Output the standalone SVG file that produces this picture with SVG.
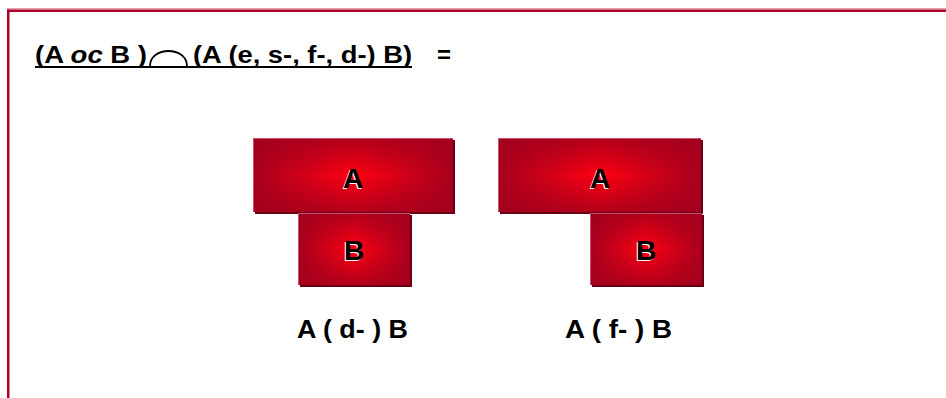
<svg xmlns="http://www.w3.org/2000/svg" width="946" height="398" viewBox="0 0 946 398">
<style>
.t{font-family:"Liberation Sans",Arial,sans-serif;font-weight:bold;fill:#000}
.lbl{font-family:"Liberation Sans",Arial,sans-serif;font-weight:bold;font-size:28px;text-anchor:middle;fill:#000}
.sh{fill:#fff}
.edgeL{fill:#c85070}
.edgeD{fill:#6a0014}
</style>
<defs>
<linearGradient id="gh" x1="0" y1="0" x2="1" y2="0">
<stop offset="0" stop-color="#a8001e"/>
<stop offset="0.5" stop-color="#ff0010"/>
<stop offset="1" stop-color="#a8001e"/>
</linearGradient>
<linearGradient id="gv" x1="0" y1="0" x2="0" y2="1">
<stop offset="0" stop-color="#a0001e" stop-opacity="0.8"/>
<stop offset="0.5" stop-color="#a0001e" stop-opacity="0"/>
<stop offset="1" stop-color="#a0001e" stop-opacity="0.8"/>
</linearGradient>
</defs>
<rect width="946" height="398" fill="#fff"/>
<g id="frame">
<rect x="7" y="8" width="939" height="1.5" fill="#e8a0b0"/>
<rect x="7" y="9.5" width="939" height="2.5" fill="#b0002a"/>
<rect x="7" y="9.5" width="2.5" height="389" fill="#b0002a"/>
</g>
<g id="title">
<text class="t" x="35" y="63" font-size="24" textLength="112" lengthAdjust="spacingAndGlyphs">(A <tspan font-style="italic">oc</tspan> B )</text>
<path d="M150,66 C150,46 187,46 187,66" fill="none" stroke="#000" stroke-width="1.8"/>
<text class="t" x="193" y="63" font-size="24" textLength="219" lengthAdjust="spacingAndGlyphs">(A (e, s-, f-, d-) B)</text>
<rect x="35" y="66" width="377" height="2" fill="#000"/>
<text class="t" x="437" y="63" font-size="24">=</text>
</g>
<g id="left-A">
<rect x="255" y="140" width="200" height="74" class="edgeD"/>
<rect x="253" y="138" width="200" height="74" class="edgeL"/>
<rect x="254" y="139" width="199" height="73" fill="url(#gh)"/>
<rect x="254" y="139" width="199" height="73" fill="url(#gv)"/>
<text class="lbl sh" x="352" y="189">A</text>
<text class="lbl" x="353" y="188">A</text>
</g>
<g id="left-B">
<rect x="300" y="215" width="112" height="72" class="edgeD"/>
<rect x="298" y="213" width="112" height="72" class="edgeL"/>
<rect x="299" y="214" width="111" height="71" fill="url(#gh)"/>
<rect x="299" y="214" width="111" height="71" fill="url(#gv)"/>
<text class="lbl sh" x="353" y="261">B</text>
<text class="lbl" x="354" y="260">B</text>
</g>
<g id="right-A">
<rect x="500" y="140" width="203" height="74" class="edgeD"/>
<rect x="498" y="138" width="203" height="74" class="edgeL"/>
<rect x="499" y="139" width="202" height="73" fill="url(#gh)"/>
<rect x="499" y="139" width="202" height="73" fill="url(#gv)"/>
<text class="lbl sh" x="599" y="189">A</text>
<text class="lbl" x="600" y="188">A</text>
</g>
<g id="right-B">
<rect x="592" y="215" width="112" height="72" class="edgeD"/>
<rect x="590" y="213" width="112" height="72" class="edgeL"/>
<rect x="591" y="214" width="111" height="71" fill="url(#gh)"/>
<rect x="591" y="214" width="111" height="71" fill="url(#gv)"/>
<text class="lbl sh" x="645" y="261">B</text>
<text class="lbl" x="646" y="260">B</text>
</g>
<g id="captions">
<text class="t" x="297" y="338" font-size="26" textLength="111" lengthAdjust="spacingAndGlyphs">A ( d- ) B</text>
<text class="t" x="565" y="338" font-size="26" textLength="107" lengthAdjust="spacingAndGlyphs">A ( f- ) B</text>
</g>
<g id="connectors"></g>
</svg>
